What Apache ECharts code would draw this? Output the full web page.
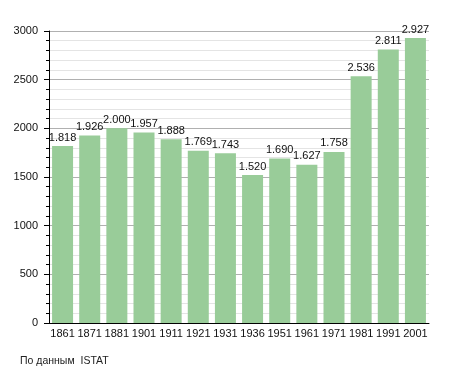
<!DOCTYPE html>
<html><head><meta charset="utf-8">
<script src="https://cdn.jsdelivr.net/npm/echarts@6/dist/echarts.min.js"></script>
<style>html,body{margin:0;padding:0;background:#fff}#c{width:455px;height:373px}</style>
</head><body><div id="c"></div>
<script>
const years = ['1861','1871','1881','1901','1911','1921','1931','1936','1951','1961','1971','1981','1991','2001'];
const population = [1818,1926,2000,1957,1888,1769,1743,1520,1690,1627,1758,2536,2811,2927];
const yTicks = [0,500,1000,1500,2000,2500,3000];
const sourceText = 'По данным  ISTAT';

const chart = echarts.init(document.getElementById('c'), null, {renderer:'canvas'});
const font = 'Liberation Sans, Arial, sans-serif';
chart.setOption({
  animation:false,
  textStyle:{fontFamily:font},
  grid:{left:49, top:31, width:380, height:292, containLabel:false},
  title:{text:sourceText, left:20, top:356, padding:0, textStyle:{fontSize:10.5, fontWeight:'normal', color:'#222', fontFamily:font}},
  xAxis:{type:'category', data:years,
    axisLine:{lineStyle:{color:'#000', width:1}},
    axisTick:{show:false},
    axisLabel:{color:'#111', fontSize:11, margin:5, fontFamily:font, interval:0}
  },
  yAxis:{type:'value', min:yTicks[0], max:yTicks[yTicks.length-1], interval:500,
    axisLine:{show:true, lineStyle:{color:'#000', width:1}},
    axisTick:{show:true, inside:false, length:5, lineStyle:{color:'#000'}},
    minorTick:{show:true, splitNumber:5, length:3, lineStyle:{color:'#000'}},
    splitLine:{show:true, lineStyle:{color:'#b0b0b0', width:1}},
    minorSplitLine:{show:true, lineStyle:{color:'#e4e4e4', width:1}},
    axisLabel:{color:'#111', fontSize:11, margin:11, fontFamily:font, formatter:v=>String(v)}
  },
  series:[{type:'bar', data:population, barWidth:21,
    itemStyle:{color:'#99cc99'},
    label:{show:true, position:'top', distance:3, color:'#111', fontSize:11, fontFamily:font,
      formatter:p=>{const v=p.value; return Math.floor(v/1000)+'.'+String(v%1000).padStart(3,'0');}}
  }]
});
</script></body></html>
